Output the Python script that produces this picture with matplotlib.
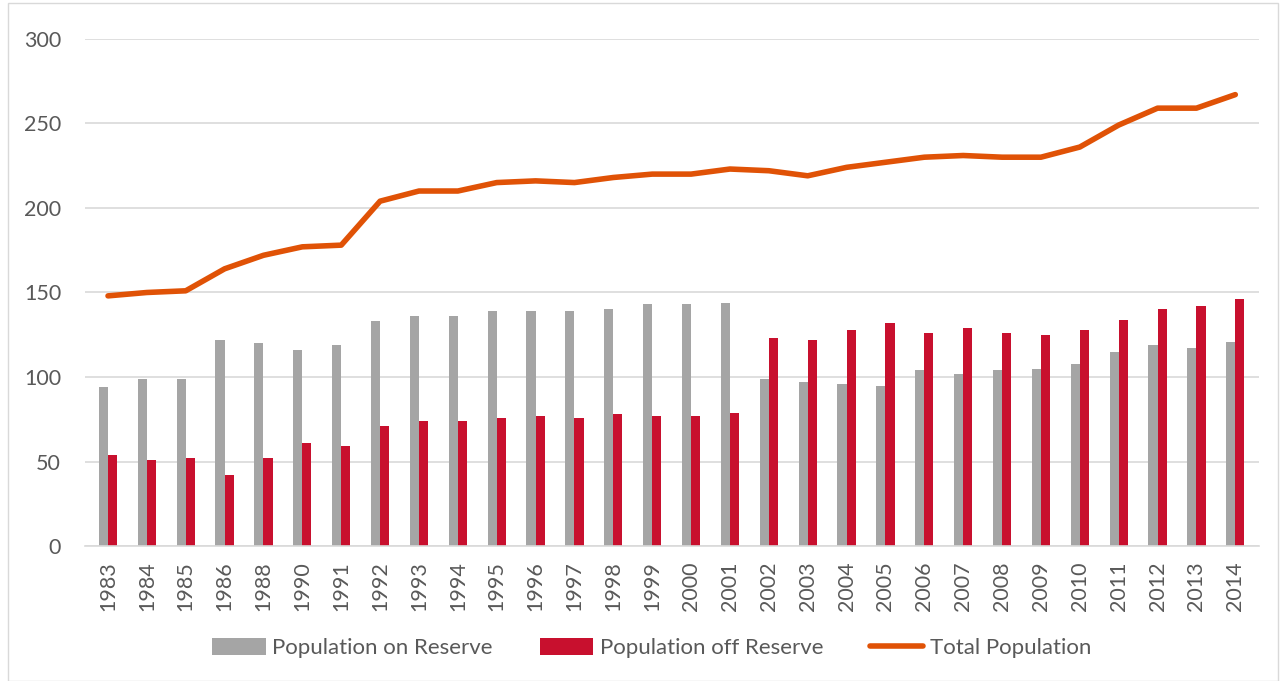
import numpy as np
import matplotlib.pyplot as plt

years = ['1983', '1984', '1985', '1986', '1988', '1990', '1991', '1992', '1993', '1994',
         '1995', '1996', '1997', '1998', '1999', '2000', '2001', '2002', '2003', '2004',
         '2005', '2006', '2007', '2008', '2009', '2010', '2011', '2012', '2013', '2014']
on_reserve = [94, 99, 99, 122, 120, 116, 119, 133, 136, 136, 139, 139, 139, 140, 143,
              143, 144, 99, 97, 96, 95, 104, 102, 104, 105, 108, 115, 119, 117, 121]
off_reserve = [54, 51, 52, 42, 52, 61, 59, 71, 74, 74, 76, 77, 76, 78, 77,
               77, 79, 123, 122, 128, 132, 126, 129, 126, 125, 128, 134, 140, 142, 146]
total = [148, 150, 151, 164, 172, 177, 178, 204, 210, 210, 215, 216, 215, 218, 220,
         220, 223, 222, 219, 224, 227, 230, 231, 230, 230, 236, 249, 259, 259, 267]

plt.rcParams['font.family'] = ['Lato', 'DejaVu Sans']
txt = '#595959'

fig = plt.figure(figsize=(12.83, 6.81), dpi=100)
ax = fig.add_axes([0.066, 0.198, 0.915, 0.745])

x = np.arange(len(years))
w = 0.235
b1 = ax.bar(x - w/2, on_reserve, w, color='#A5A5A5', label='Population on Reserve', zorder=2)
b2 = ax.bar(x + w/2, off_reserve, w, color='#C8102E', label='Population off Reserve', zorder=2)
l1, = ax.plot(x, total, color='#E05206', lw=4, solid_capstyle='round', label='Total Population', zorder=3)

ax.set_ylim(0, 300)
ax.set_yticks(range(0, 301, 50))
ax.set_xlim(-0.6, len(years) - 0.4)
ax.set_xticks(x)
ax.set_xticklabels(years, rotation=90)
ax.tick_params(axis='both', length=0, colors=txt)
ax.tick_params(axis='x', labelsize=15.5, pad=11)
ax.tick_params(axis='y', labelsize=15.5, pad=17)
ax.grid(axis='y', color='#D9D9D9', lw=1.2, zorder=0)
for s in ['top', 'right', 'left']:
    ax.spines[s].set_visible(False)
ax.spines['bottom'].set_color('#D9D9D9')
ax.spines['bottom'].set_linewidth(1.2)

fig.legend([b1, b2, l1], ['Population on Reserve', 'Population off Reserve', 'Total Population'],
           loc='center', bbox_to_anchor=(0.508, 0.048), ncol=3, frameon=False,
           fontsize=16, labelcolor=txt, handlelength=2.4, handleheight=0.8,
           columnspacing=2.1, handletextpad=0.3)

fig.add_artist(plt.Rectangle((0.006, 0.0), 0.99, 0.995, transform=fig.transFigure,
                             fill=False, edgecolor='#D9D9D9', lw=1))

fig.savefig('out.png', dpi=100)
